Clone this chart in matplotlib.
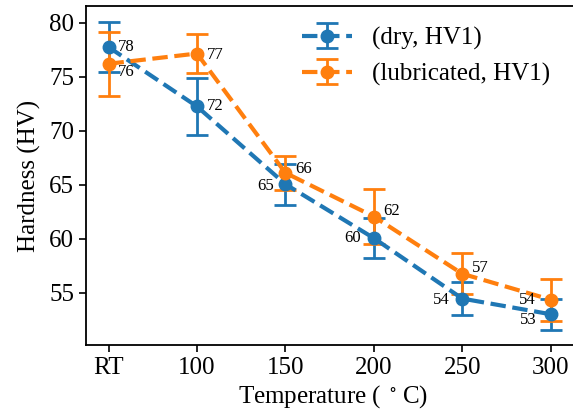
import matplotlib
matplotlib.use('Agg')
import matplotlib.pyplot as plt

plt.rcParams['font.family'] = ['Liberation Serif', 'DejaVu Serif']
plt.rcParams['mathtext.fontset'] = 'stix'

# Datos
temperaturas = ['RT', '100', '150', '200', '250', '300']
dureza_seco = [77.75, 72.25, 65.05, 60.05, 54.45, 53.0]
error_seco = [2.3, 2.65, 1.9, 1.85, 1.5, 1.45]
dureza_lub = [76.2, 77.15, 66.1, 62.05, 56.75, 54.35]
error_lub = [2.95, 1.85, 1.6, 2.55, 1.9, 1.95]

# Desplazamientos de las etiquetas (puntos)
off_seco = [(7, 0), (7, 0), (-8, -1), (-9, 0), (-9, -1), (-10, -4)]
off_lub = [(7, -6), (7, -1), (7, 3), (7, 4), (7, 4), (-11, 0)]

fig = plt.figure(figsize=(5.73, 4.18), dpi=100)
ax = fig.add_axes([0.150, 0.1746, 0.862, 0.811])

x = list(range(len(temperaturas)))
estilo = dict(fmt='o--', lw=3, ms=9, capsize=8, elinewidth=2, capthick=2)
ax.errorbar(x, dureza_seco, yerr=error_seco, color='#1f77b4', label='(dry, HV1)', **estilo)
ax.errorbar(x, dureza_lub, yerr=error_lub, color='#ff7f0e', label='(lubricated, HV1)', **estilo)

for xi, v, o in zip(x, dureza_seco, off_seco):
    ax.annotate('{:.0f}'.format(v), (xi, v), xytext=o, textcoords='offset points',
                ha='left' if o[0] > 0 else 'right', va='center', fontsize=12)
for xi, v, o in zip(x, dureza_lub, off_lub):
    ax.annotate('{:.0f}'.format(v), (xi, v), xytext=o, textcoords='offset points',
                ha='left' if o[0] > 0 else 'right', va='center', fontsize=12)

ax.set_xticks(x)
ax.set_xticklabels(temperaturas)
ax.set_yticks([55, 60, 65, 70, 75, 80])
ax.set_xlim(-0.255, 5.33)
ax.set_ylim(50.15, 81.55)
ax.tick_params(labelsize=18, width=1.2, length=5)
for s in ax.spines.values():
    s.set_linewidth(1.3)

ax.set_xlabel(r'Temperature ( $^\circ\,$C)', fontsize=18, labelpad=3)
ax.set_ylabel('Hardness (HV)', fontsize=18, labelpad=6)
ax.legend(loc='upper right', frameon=False, fontsize=18, handlelength=2.0,
          borderaxespad=0, bbox_to_anchor=(560 / 573, 1 - 17 / 418),
          bbox_transform=fig.transFigure)

fig.savefig('out.png', dpi=100)
